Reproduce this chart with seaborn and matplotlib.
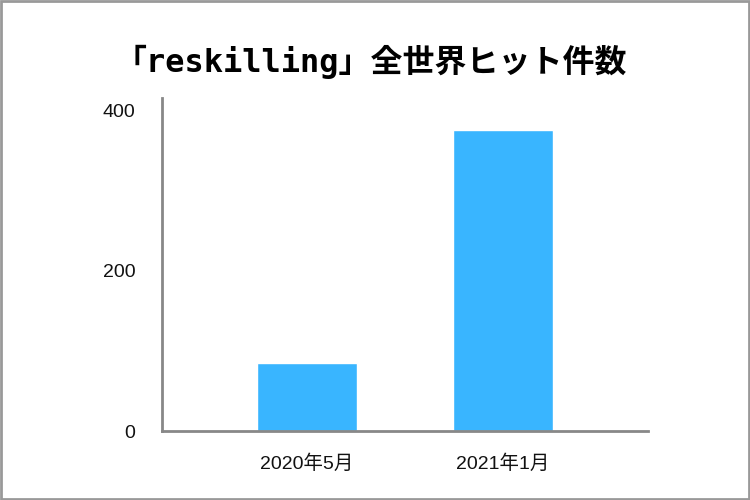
import matplotlib
matplotlib.use("Agg")
import matplotlib.pyplot as plt
import seaborn as sns
import pandas as pd
from matplotlib.patches import Rectangle

# データ
periods = ["2020年5月", "2021年1月"]
hits = [85, 375]
y_ticks = [0, 200, 400]
title = "「reskilling」全世界ヒット件数"

df = pd.DataFrame({"period": periods, "hits": hits})

sns.set_style("white")
plt.rcParams['font.family'] = ['Liberation Sans', 'Noto Sans CJK JP', 'DejaVu Sans']

fig = plt.figure(figsize=(7.5, 5), dpi=100)
ax = fig.add_axes([0.216, 0.138, 0.648, 0.666])

sns.barplot(data=df, x="period", y="hits", color="#39b5ff", saturation=1,
            width=0.51, ax=ax)

ax.set_xlim(-0.74, 1.74)
ax.set_ylim(0, 415)
ax.set_yticks(y_ticks)
ax.set_xlabel("")
ax.set_ylabel("")
ax.tick_params(axis="both", length=0, labelsize=14, colors="#111111")
ax.tick_params(axis="y", pad=19)
ax.tick_params(axis="x", pad=17)

for side in ["top", "right"]:
    ax.spines[side].set_visible(False)
for side in ["left", "bottom"]:
    ax.spines[side].set_color("#888888")
    ax.spines[side].set_linewidth(2)

fig.text(0.495, 0.876, title, ha="center", va="center", fontsize=23,
         fontweight="bold", color="black",
         family=["DejaVu Sans Mono", "Noto Sans CJK JP"])

# 外枠
fig.patches.append(Rectangle((0.001, 0.002), 0.997, 0.996, transform=fig.transFigure,
                             fill=False, edgecolor="#999999", linewidth=2))

plt.savefig("out.png", dpi=100)
